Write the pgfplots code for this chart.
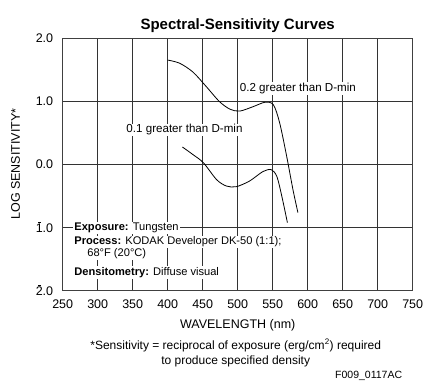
\documentclass[border=0pt]{standalone}
\usepackage{pgfplots}
\pgfplotsset{compat=1.18}
\usepackage{fontspec}
\setmainfont{Liberation Sans}
\newcommand{\barone}[1]{\makebox[0pt][l]{\kern0.2em\raisebox{0.82em}{\rule{0.25em}{0.6pt}}}#1}
\begin{document}
\begin{tikzpicture}
\path[use as bounding box] (-62.7pt,-96pt) rectangle (371.3pt,290pt);
\begin{axis}[
  scale only axis, width=350pt, height=252pt,
  xmin=250, xmax=750, ymin=-2, ymax=2,
  xtick={250,300,...,750},
  xticklabels={250,300,350,400,450,500,550,600,650,700,750},
  ytick={-2,-1,0,1,2},
  yticklabels={\barone{2}.0,\barone{1}.0,0.0,1.0,2.0},
  ticklabel style={font=\fontsize{12.5}{14}\selectfont},
  xticklabel style={yshift=-6pt},
  yticklabel style={xshift=-6pt},
  major tick length=0pt,
  grid=major,
  grid style={black!80, line width=0.7pt},
  axis line style={black!75, line width=1pt},
  xlabel={WAVELENGTH (nm)},
  ylabel={LOG SENSITIVITY*},
  label style={font=\fontsize{12.5}{14}\selectfont},
  xlabel style={yshift=-4pt},
  ylabel style={yshift=9pt},
  title={\textbf{Spectral-Sensitivity Curves}},
  title style={font=\fontsize{15}{17}\selectfont, yshift=-4pt},
  clip=false,
]
\addplot[black, line width=0.8pt, smooth, tension=0.5] coordinates {
 (400,1.65) (417,1.60) (436,1.46) (455,1.23) (474,0.99) (489,0.87) (503,0.84)
 (522,0.91) (539,0.98) (551,0.94) (560,0.65) (570,0.12) (579,-0.41) (586,-0.77)
};
\addplot[black, line width=0.8pt, smooth, tension=0.5] coordinates {
 (421,0.27) (436,0.15) (451,0.02) (470,-0.25) (484,-0.35) (498,-0.36) (517,-0.27)
 (536,-0.12) (548,-0.09) (556,-0.20) (563,-0.51) (571,-0.93)
};
\begin{scope}[every node/.style={fill=white, inner sep=1pt, font=\fontsize{11.6}{14}\selectfont}]
\node at (axis cs:586,1.2) {0.2 greater than D-min};
\node at (axis cs:424,0.54) {0.1 greater than D-min};
\end{scope}
\begin{scope}[every node/.style={fill=white, inner sep=1pt, font=\fontsize{11.1}{13}\selectfont}]
\node[anchor=west] at (axis cs:265,-1.02) {\textbf{Exposure:} Tungsten};
\node[anchor=west] at (axis cs:265,-1.24) {\textbf{Process:} KODAK Developer DK-50 (1:1);};
\node[anchor=west] at (axis cs:283.5,-1.43) {68°F (20°C)};
\node[anchor=west] at (axis cs:265,-1.72) {\textbf{Densitometry:} Diffuse visual};
\end{scope}
\end{axis}
\node[font=\fontsize{12}{15}\selectfont, align=center] at (173pt,-63pt) {*Sensitivity = reciprocal of exposure (erg/cm$^{\mathrm{2}}$) required\\to produce specified density};
\node[font=\fontsize{10.5}{12}\selectfont, anchor=east] at (343pt,-86pt) {F009\_0117AC};
\end{tikzpicture}
\end{document}
